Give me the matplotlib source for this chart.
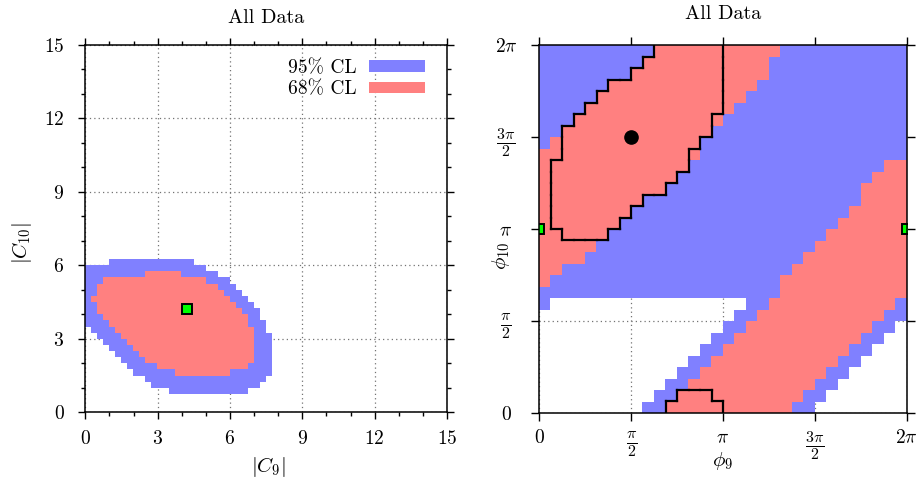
import numpy as np
import matplotlib
matplotlib.use("Agg")
import matplotlib.pyplot as plt
from matplotlib.collections import LineCollection
from matplotlib.patches import Patch

plt.rcParams['font.family'] = 'cmr10'
plt.rcParams['mathtext.fontset'] = 'cm'
plt.rcParams['axes.formatter.use_mathtext'] = True

# ---------------- data ----------------
# Left panel: |C9| vs |C10| likelihood cells (0.25 x 0.25), run-length rows from top to bottom
# '.' = outside, 'b' = 95% CL, 'r' = 68% CL
C_CELL = 0.25
C_TOP_ROW = 24          # index of first listed row (y = row*cell)
C_ROWS = [
    "4. 14b 14.",
    "20b 12.",
    "10b 6r 6b 10.",
    "3b 17r 4b 8.",
    "2b 20r 3b 7.",
    "2b 21r 3b 6.",
    "1b 23r 3b 5.",
    "2b 23r 3b 4.",
    "2b 24r 3b 3.",
    "3b 24r 2b 3.",
    "4b 23r 3b 2.",
    "1. 4b 23r 2b 2.",
    "2. 4b 22r 3b 1.",
    "3. 4b 21r 3b 1.",
    "4. 4b 20r 3b 1.",
    "5. 4b 19r 3b 1.",
    "6. 4b 18r 3b 1.",
    "7. 5b 15r 4b 1.",
    "8. 7b 9r 7b 1.",
    "10. 20b 2.",
    "11. 18b 3.",
    "14. 13b 5.",
]
C_BEST = (4.2, 4.2)

# Right panel: phi9 vs phi10 cells (pi/16), rows from top (row 31) to bottom (row 0)
# 'R' = 68% CL cell inside the black contour
PHI_NCELL = 32
PHI_ROWS = [
    "10b 6R 5r 11b",
    "9b 7R 4r 12b",
    "8b 8R 4r 12b",
    "6b 10R 3r 13b",
    "5b 11R 2r 14b",
    "4b 12R 1r 15b",
    "3b 12R 1r 16b",
    "2b 13R 17b",
    "1b 1r 12R 18b",
    "2r 11R 1r 18b",
    "1r 12R 17b 2r",
    "1r 11R 17b 3r",
    "1r 10R 17b 4r",
    "1r 8R 19b 4r",
    "1r 7R 19b 5r",
    "1r 6R 19b 6r",
    "2r 4R 19b 7r",
    "5r 19b 8r",
    "4r 19b 9r",
    "2r 20b 10r",
    "1r 20b 11r",
    "21b 11r",
    "1b 17. 2b 11r 1b",
    "17. 2b 11r 2b",
    "16. 2b 11r 2b 1.",
    "15. 2b 11r 2b 2.",
    "14. 2b 11r 2b 3.",
    "13. 2b 11r 2b 4.",
    "12. 2b 11r 2b 5.",
    "11. 2b 11r 2b 6.",
    "10. 2b 3R 8r 2b 7.",
    "9. 2b 5R 6r 2b 8.",
]
PHI_SQUARES_X = [0.0, 2 * np.pi]
PHI_SQUARES_Y = [np.pi, np.pi]
PHI_DOT = (np.pi / 2, 3 * np.pi / 2)

LEGEND_LABELS = ["95% CL", "68% CL"]
PHI_TICKS = [0, np.pi / 2, np.pi, 3 * np.pi / 2, 2 * np.pi]
PHI_TICKLABELS = ["0", r"$\frac{\pi}{2}$", r"$\pi$", r"$\frac{3\pi}{2}$", r"$2\pi$"]

BLUE = (128 / 255, 128 / 255, 1.0)
RED = (1.0, 128 / 255, 128 / 255)
GREEN = "#00ff00"


def decode(rows):
    out = []
    for r in rows:
        s = ""
        for tok in r.split():
            s += tok[-1] * int(tok[:-1])
        out.append(s)
    return out


def to_rgba(rows):
    h, w = len(rows), len(rows[0])
    img = np.zeros((h, w, 4))
    for i, row in enumerate(rows[::-1]):       # bottom row first
        for j, ch in enumerate(row):
            if ch == 'b':
                img[i, j] = (*BLUE, 1)
            elif ch in 'rR':
                img[i, j] = (*RED, 1)
    return img


W, H = 918, 480
fig = plt.figure(figsize=(W / 100, H / 100), dpi=100)


def px_axes(x0, y0, x1, y1):
    return fig.add_axes([x0 / W, 1 - y1 / H, (x1 - x0) / W, (y1 - y0) / H])


grid_kw = dict(color='0.45', linestyle=(0, (1, 2.5)), linewidth=0.9)
TICK_FS = 14
FRAC_FS = 16.5
TITLE_FS = 14.5
LABEL_FS = 15

# ---------------- left panel ----------------
ax1 = px_axes(85.3, 45, 447, 412)
crows = decode(C_ROWS)
nrow = len(crows)
ncol = len(crows[0])
ybot = (C_TOP_ROW + 1 - nrow) * C_CELL
ax1.imshow(to_rgba(crows), origin='lower', interpolation='nearest', aspect='auto',
           extent=[0, ncol * C_CELL, ybot, ybot + nrow * C_CELL], zorder=1)
ax1.plot(*C_BEST, marker='s', ms=7.5, mfc=GREEN, mec='black', mew=1.4, zorder=5)
ax1.set_xlim(0, 15)
ax1.set_ylim(0, 15)
ax1.set_xticks(range(0, 16, 3))
ax1.set_yticks(range(0, 16, 3))
ax1.set_xticks(range(16), minor=True)
ax1.set_yticks(range(16), minor=True)
ax1.set_axisbelow(True)
ax1.grid(True, which='major', **grid_kw)
ax1.tick_params(which='both', direction='out', top=True, right=True, width=1.0, labelsize=TICK_FS)
ax1.tick_params(which='major', length=5)
ax1.tick_params(which='minor', length=3)
ax1.tick_params(axis='y', pad=10)
ax1.tick_params(axis='x', pad=8)
handles = [Patch(facecolor=BLUE, edgecolor='none'), Patch(facecolor=RED, edgecolor='none')]
ax1.legend(handles, LEGEND_LABELS, loc='upper right', bbox_to_anchor=(0.94, 0.962),
           markerfirst=False, frameon=False, fontsize=TICK_FS, handlelength=2.9, handleheight=0.5,
           handletextpad=0.65, labelspacing=0.2, borderpad=0, borderaxespad=0)
fig.text(266 / W, 1 - 18 / H, "All Data", ha='center', va='center', fontsize=TITLE_FS)
fig.text(268 / W, 1 - 467 / H, r"$|C_9|$", ha='center', va='center', fontsize=LABEL_FS)
fig.text(22 / W, 1 - 243 / H, r"$|C_{10}|$", ha='center', va='center', fontsize=LABEL_FS, rotation=90)

# ---------------- right panel ----------------
ax2 = px_axes(539.3, 45.3, 906.7, 412.7)
prows = decode(PHI_ROWS)
cell = 2 * np.pi / PHI_NCELL
ax2.imshow(to_rgba(prows), origin='lower', interpolation='nearest', aspect='auto',
           extent=[0, 2 * np.pi, 0, 2 * np.pi], zorder=1)

# black contour around 'R' cells
mask = np.array([[ch == 'R' for ch in row] for row in prows[::-1]])
segs = []
n = PHI_NCELL
for i in range(n):
    for j in range(n):
        if not mask[i, j]:
            continue
        x0, x1 = j * cell, (j + 1) * cell
        y0, y1 = i * cell, (i + 1) * cell
        if j + 1 < n and not mask[i, j + 1]:
            segs.append([(x1, y0), (x1, y1)])
        if j - 1 >= 0 and not mask[i, j - 1]:
            segs.append([(x0, y0), (x0, y1)])
        if i + 1 < n and not mask[i + 1, j]:
            segs.append([(x0, y1), (x1, y1)])
        if i - 1 >= 0 and not mask[i - 1, j]:
            segs.append([(x0, y0), (x1, y0)])
ax2.add_collection(LineCollection(segs, colors='black', linewidths=1.6, zorder=4,
                                  capstyle='projecting'))
ax2.plot(PHI_SQUARES_X, PHI_SQUARES_Y, ls='none', marker='s', ms=7.5, mfc=GREEN,
         mec='black', mew=1.4, zorder=5)
ax2.plot(*PHI_DOT, marker='o', ms=9.5, color='black', zorder=5)
ax2.set_xlim(0, 2 * np.pi)
ax2.set_ylim(0, 2 * np.pi)
ax2.set_xticks(PHI_TICKS)
ax2.set_xticklabels(PHI_TICKLABELS)
ax2.set_yticks(PHI_TICKS)
ax2.set_yticklabels(PHI_TICKLABELS)
ax2.set_axisbelow(True)
ax2.grid(True, which='major', **grid_kw)
ax2.tick_params(which='both', direction='out', top=True, right=True, width=1.0,
                length=6, labelsize=TICK_FS)
ax2.tick_params(axis='y', pad=18)
ax2.tick_params(axis='x', pad=6)
for lab in ax2.get_yticklabels():
    lab.set_horizontalalignment('center')
for lab in ax2.get_yticklabels() + ax2.get_xticklabels():
    if 'frac' in lab.get_text():
        lab.set_fontsize(FRAC_FS)
fig.text(723 / W, 1 - 14 / H, "All Data", ha='center', va='center', fontsize=TITLE_FS)
fig.text(723 / W, 1 - 461 / H, r"$\phi_9$", ha='center', va='center', fontsize=LABEL_FS)
fig.text(501 / W, 1 - 256 / H, r"$\phi_{10}$", ha='center', va='center', fontsize=LABEL_FS, rotation=90)

for ax in (ax1, ax2):
    for sp in ax.spines.values():
        sp.set_linewidth(1.1)
        sp.set_zorder(6)

fig.savefig("out.png", dpi=100)
